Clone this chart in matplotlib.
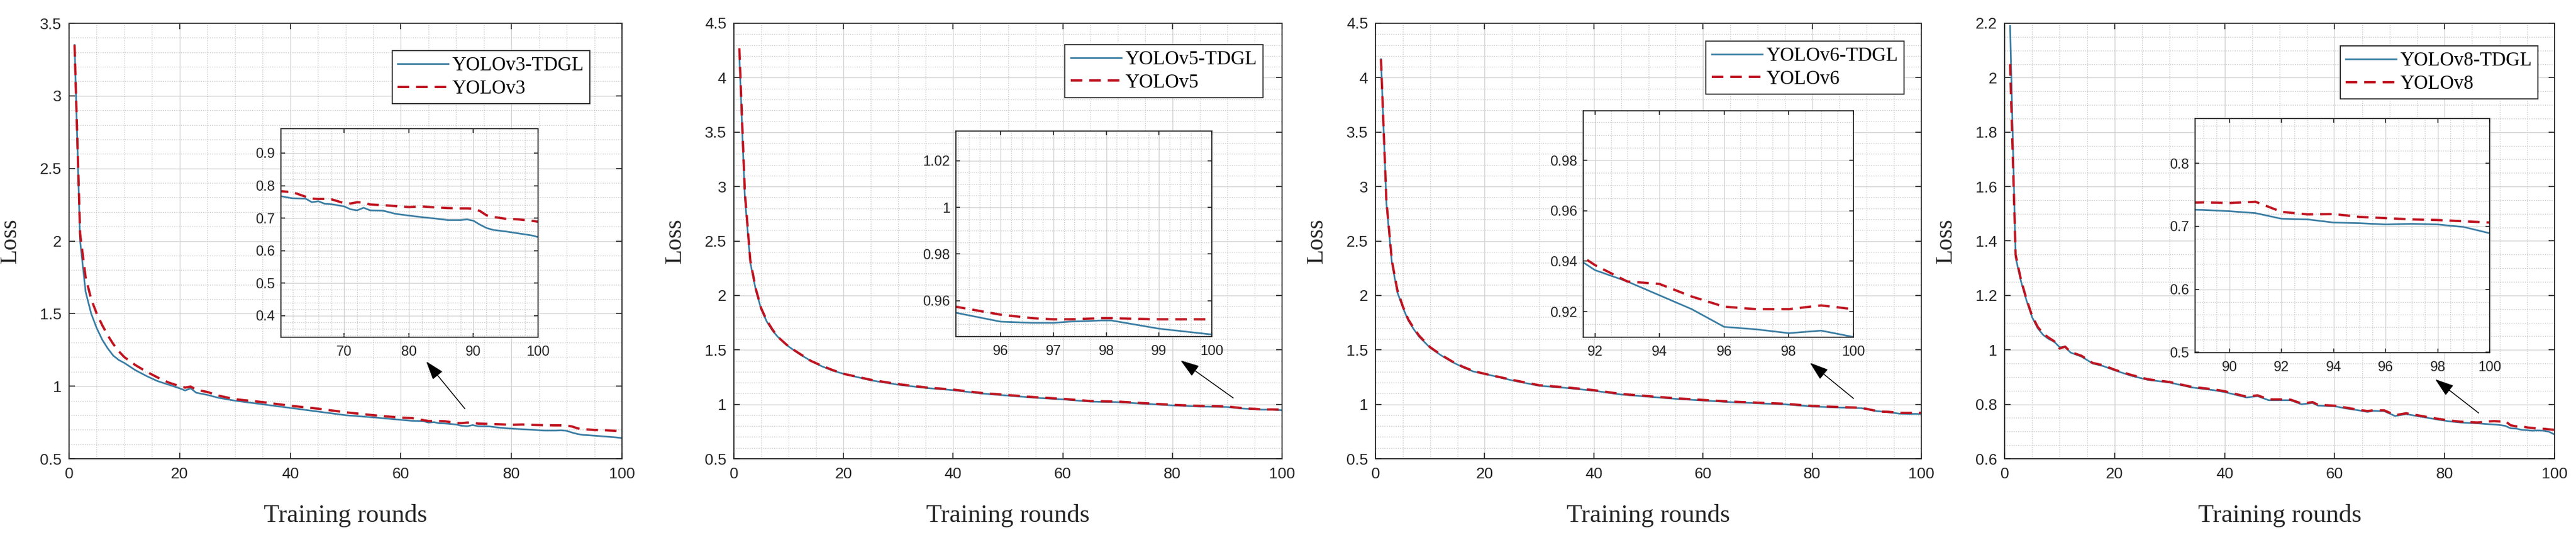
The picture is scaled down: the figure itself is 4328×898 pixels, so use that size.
import numpy as np
import matplotlib
matplotlib.use('Agg')
import matplotlib.pyplot as plt
from matplotlib.ticker import MultipleLocator, FuncFormatter

# ---- data ----
names = ['YOLOv3', 'YOLOv5', 'YOLOv6', 'YOLOv8']

ep_v3 = [1, 2, 3, 4, 5, 6, 7, 8, 9, 10, 12, 14, 16, 18, 20, 21, 22, 23, 25, 27, 30, 35, 40, 45,
         50, 55, 60, 62, 64, 65, 66, 67, 68, 70, 71, 72, 73, 74, 76, 78, 80, 82, 84, 86, 88, 89,
         90, 91, 92, 93, 95, 97, 99, 100]
tdgl_v3 = [3.35, 2.00, 1.65, 1.50, 1.40, 1.32, 1.26, 1.21, 1.18, 1.16, 1.11, 1.07, 1.035, 1.01,
           0.985, 0.97, 0.985, 0.955, 0.94, 0.92, 0.90, 0.875, 0.85, 0.825, 0.80, 0.785, 0.768,
           0.761, 0.760, 0.749, 0.752, 0.744, 0.743, 0.736, 0.727, 0.724, 0.732, 0.724, 0.723,
           0.713, 0.708, 0.703, 0.699, 0.694, 0.694, 0.696, 0.692, 0.680, 0.670, 0.664, 0.659,
           0.653, 0.647, 0.642]
base_v3 = [3.35, 2.05, 1.75, 1.60, 1.50, 1.42, 1.35, 1.29, 1.24, 1.20, 1.145, 1.10, 1.06, 1.025,
           1.00, 0.99, 0.997, 0.975, 0.96, 0.935, 0.91, 0.89, 0.865, 0.845, 0.82, 0.80, 0.783,
           0.780, 0.766, 0.760, 0.759, 0.759, 0.758, 0.746, 0.745, 0.749, 0.748, 0.742, 0.740,
           0.737, 0.734, 0.736, 0.733, 0.731, 0.730, 0.730, 0.729, 0.722, 0.709, 0.704, 0.698,
           0.696, 0.692, 0.689]

ep_v5 = [1, 2, 3, 4, 5, 6, 7, 8, 10, 12, 14, 16, 18, 20, 25, 30, 35, 40, 45, 50, 55, 60, 65, 70,
         75, 80, 85, 90, 93, 95, 96, 96.6, 97, 97.3, 97.9, 98.1, 99, 100]
tdgl_v5 = [4.20, 2.90, 2.30, 2.05, 1.87, 1.76, 1.68, 1.62, 1.53, 1.46, 1.40, 1.35, 1.31, 1.28,
           1.22, 1.18, 1.15, 1.13, 1.10, 1.08, 1.06, 1.045, 1.025, 1.02, 1.005, 0.99, 0.98, 0.975,
           0.96, 0.9555, 0.951, 0.9505, 0.9505, 0.951, 0.9515, 0.9515, 0.948, 0.9455]
base_v5 = [4.27, 2.95, 2.32, 2.06, 1.88, 1.77, 1.69, 1.62, 1.53, 1.465, 1.40, 1.355, 1.315, 1.28,
           1.225, 1.185, 1.155, 1.135, 1.105, 1.085, 1.065, 1.05, 1.03, 1.025, 1.01, 0.995, 0.985,
           0.98, 0.963, 0.958, 0.954, 0.9525, 0.952, 0.952, 0.9525, 0.9525, 0.952, 0.952]

ep_v6 = [1, 2, 3, 4, 5, 6, 7, 8, 10, 12, 14, 16, 18, 20, 25, 30, 35, 40, 45, 50, 55, 60, 65, 70,
         75, 80, 85, 89, 91, 92, 93, 94, 95, 96, 97, 98, 99, 100]
tdgl_v6 = [4.17, 2.85, 2.30, 2.03, 1.89, 1.77, 1.69, 1.62, 1.52, 1.45, 1.39, 1.34, 1.30, 1.28,
           1.22, 1.17, 1.15, 1.125, 1.09, 1.07, 1.05, 1.035, 1.02, 1.01, 1.00, 0.98, 0.97, 0.965,
           0.945, 0.9365, 0.932, 0.9265, 0.921, 0.914, 0.913, 0.9115, 0.9125, 0.910]
base_v6 = [4.17, 2.87, 2.32, 2.05, 1.90, 1.78, 1.70, 1.63, 1.525, 1.455, 1.395, 1.345, 1.305, 1.28,
           1.225, 1.175, 1.155, 1.13, 1.095, 1.075, 1.055, 1.04, 1.025, 1.015, 1.005, 0.985, 0.975,
           0.968, 0.947, 0.9385, 0.932, 0.931, 0.926, 0.922, 0.921, 0.921, 0.9225, 0.921]

ep_v8 = [1, 2, 3, 4, 5, 6, 7, 8, 9, 10, 11, 12, 14, 16, 18, 20, 23, 26, 30, 34, 38, 40, 43, 44,
         46, 48, 50, 52, 54, 56, 57, 60, 62, 64, 66, 67, 69, 71, 73, 75, 77, 79, 81, 83, 86, 88,
         89, 90, 91, 92, 93, 94, 95, 96, 97, 98, 99, 100]
tdgl_v8 = [2.19, 1.34, 1.25, 1.18, 1.12, 1.08, 1.055, 1.04, 1.03, 1.01, 1.01, 0.99, 0.975, 0.95,
           0.94, 0.925, 0.905, 0.89, 0.88, 0.862, 0.852, 0.845, 0.83, 0.825, 0.83, 0.815, 0.815,
           0.815, 0.80, 0.805, 0.795, 0.793, 0.785, 0.779, 0.772, 0.776, 0.775, 0.757, 0.764,
           0.757, 0.75, 0.743, 0.737, 0.733, 0.730, 0.727, 0.726, 0.724, 0.721, 0.712, 0.711,
           0.706, 0.705, 0.703, 0.704, 0.703, 0.699, 0.689]
base_v8 = [2.05, 1.35, 1.255, 1.185, 1.125, 1.085, 1.06, 1.045, 1.032, 1.005, 1.012, 0.992, 0.978,
           0.952, 0.943, 0.927, 0.908, 0.892, 0.882, 0.864, 0.855, 0.848, 0.833, 0.828, 0.833,
           0.818, 0.818, 0.817, 0.803, 0.808, 0.798, 0.795, 0.788, 0.781, 0.775, 0.778, 0.778,
           0.760, 0.767, 0.760, 0.753, 0.746, 0.740, 0.736, 0.733, 0.737, 0.738, 0.737, 0.739,
           0.723, 0.719, 0.7195, 0.715, 0.713, 0.711, 0.710, 0.708, 0.706]

epochs = [ep_v3, ep_v5, ep_v6, ep_v8]
tdgl = [tdgl_v3, tdgl_v5, tdgl_v6, tdgl_v8]
base = [base_v3, base_v5, base_v6, base_v8]

# axis settings per panel
main_ylim = [(0.5, 3.5), (0.5, 4.5), (0.5, 4.5), (0.6, 2.2)]
main_ystep = [(0.5, 0.1), (0.5, 0.1), (0.5, 0.1), (0.2, 0.05)]
zoom_xlim = [(60.2, 100), (95.15, 100), (91.64, 100), (88.68, 100)]
zoom_ylim = [(0.334, 0.975), (0.9446, 1.0327), (0.9099, 0.9996), (0.4995, 0.871)]
zoom_xstep = [(10, 2), (1, 0.2), (2, 0.5), (2, 0.5)]
zoom_ystep = [(0.1, 0.02), (0.02, 0.005), (0.02, 0.005), (0.1, 0.02)]

# ---- layout (pixels of the 4328x898 picture) ----
W, H = 4328, 898
main_px = [(116, 929), (1233, 921), (2311, 917), (3368, 924)]
ax_top, ax_bot = 39, 770
inset_px = [(472, 216, 432, 350), (1606, 220, 430, 345), (2660, 186, 454, 380), (3688, 199, 495, 393)]
legend_anchor = [(0.942, 0.937), (0.965, 0.951), (0.968, 0.959), (0.970, 0.948)]
arrows = [((71.6, 0.844), (64.6, 1.17)), ((91.1, 1.058), (81.5, 1.403)),
          ((87.6, 1.053), (79.6, 1.381)), ((86.2, 0.768), (78.3, 0.892))]

BLUE = '#3A7DA3'
RED = '#BF1420'
DARK = '#262626'
SERIF = 'Liberation Serif'
plt.rcParams['font.family'] = ['Liberation Sans', 'DejaVu Sans']

gfmt = FuncFormatter(lambda v, p: '%g' % round(v, 6))


def style(ax, xs, ys, fs, tlen, xpad, ypad):
    ax.xaxis.set_major_locator(MultipleLocator(xs[0]))
    ax.xaxis.set_minor_locator(MultipleLocator(xs[1]))
    ax.yaxis.set_major_locator(MultipleLocator(ys[0]))
    ax.yaxis.set_minor_locator(MultipleLocator(ys[1]))
    ax.xaxis.set_major_formatter(gfmt)
    ax.yaxis.set_major_formatter(gfmt)
    ax.grid(which='major', color='#d2d2d2', lw=1.0, ls='-')
    ax.grid(which='minor', color='#bdbdbd', lw=0.9, ls=(0, (1, 2)))
    ax.set_axisbelow(True)
    ax.tick_params(which='major', direction='in', top=True, right=True, length=tlen,
                   width=1.2, labelsize=fs, colors=DARK)
    ax.tick_params(axis='x', pad=xpad)
    ax.tick_params(axis='y', pad=ypad)
    ax.tick_params(which='minor', length=0)
    for s in ax.spines.values():
        s.set_color(DARK)
        s.set_linewidth(1.3)


fig = plt.figure(figsize=(W / 100, H / 100), dpi=100)

for i in range(4):
    left, width = main_px[i]
    ax = fig.add_axes([left / W, (H - ax_bot) / H, width / W, (ax_bot - ax_top) / H])
    l1, = ax.plot(epochs[i], tdgl[i], color=BLUE, lw=2.0)
    l2, = ax.plot(epochs[i], base[i], color=RED, lw=2.8, ls=(0, (5, 3)))
    ax.set_xlim(0, 100)
    ax.set_ylim(*main_ylim[i])
    style(ax, (20, 5), main_ystep[i], 19, 7, 10, 9)
    ax.set_xlabel('Training rounds', fontfamily=SERIF, fontsize=31, color=DARK)
    ax.set_ylabel('Loss', fontfamily=SERIF, fontsize=29, color=DARK)
    ax.xaxis.set_label_coords(0.5, -0.104)
    ax.yaxis.set_label_coords(-80 / width, 0.5)

    leg = ax.legend([l1, l2], [names[i] + '-TDGL', names[i]], loc='upper right',
                    bbox_to_anchor=legend_anchor[i], prop={'family': SERIF, 'size': 23.5},
                    frameon=True, fancybox=False, framealpha=1, edgecolor=DARK,
                    borderpad=0.3, handlelength=2.6, handletextpad=0.2,
                    labelspacing=0.25, borderaxespad=0)
    leg.get_frame().set_linewidth(1.3)

    tail, head = arrows[i]
    ax.annotate('', xy=head, xytext=tail,
                arrowprops=dict(arrowstyle='-|>,head_length=0.65,head_width=0.22',
                                color='k', lw=1.1, mutation_scale=30,
                                shrinkA=0, shrinkB=0))

    # zoomed view
    x0, y0, w0, h0 = inset_px[i]
    axi = fig.add_axes([x0 / W, (H - y0 - h0) / H, w0 / W, h0 / H])
    axi.plot(epochs[i], tdgl[i], color=BLUE, lw=2.0)
    axi.plot(epochs[i], base[i], color=RED, lw=2.8, ls=(0, (5, 3)))
    axi.set_xlim(*zoom_xlim[i])
    axi.set_ylim(*zoom_ylim[i])
    axi.set_facecolor('white')
    style(axi, zoom_xstep[i], zoom_ystep[i], 17, 5, 10, 7)

fig.savefig('out.png', dpi=100)
